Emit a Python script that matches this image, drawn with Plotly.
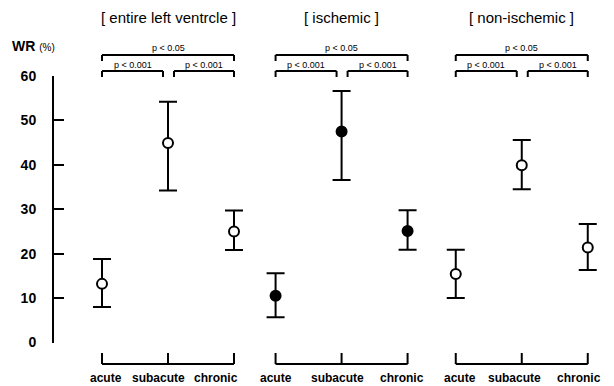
import plotly.graph_objects as go

# ---- data ----
groups = ["[ entire left ventrcle ]", "[ ischemic ]", "[ non-ischemic ]"]
phases = ["acute", "subacute", "chronic"]
mean_values = [[13.2, 44.9, 25.0], [10.5, 47.5, 25.1], [15.4, 39.9, 21.4]]
upper_values = [[18.8, 54.2, 29.7], [15.6, 56.6, 29.8], [20.9, 45.6, 26.7]]
lower_values = [[8.0, 34.2, 20.8], [5.7, 36.6, 20.9], [10.0, 34.5, 16.3]]
filled = [False, True, False]
y_ticks = [0, 10, 20, 30, 40, 50, 60]
p_labels = ["p < 0.05", "p < 0.001", "p < 0.001"]

# ---- layout geometry ----
W, H = 614, 386
group_offsets = [0, 2.63, 5.36]
spacing = 1.0
px_per_unit = 66.0
x0_px = 102
y0_px, y60_px = 342.5, 76
label_shifts = [[4, -10, -18], [0, -4, -6], [4, -7, -9]]


def py(p):  # pixel row -> paper y
    return 1 - p / H


def pxx(p):  # pixel col -> paper x
    return p / W


xr = [-x0_px / px_per_unit, (W - x0_px) / px_per_unit]
du = 1 / px_per_unit  # one pixel in x data units

fig = go.Figure()
shapes = []
annotations = []
label_font = dict(size=12, family="Liberation Sans", weight="bold", color="black")
p_font = dict(size=9, family="Liberation Sans", color="black")

for g in range(3):
    xs = [group_offsets[g] + i * spacing for i in range(3)]
    m = mean_values[g]
    up = [u - v for u, v in zip(upper_values[g], m)]
    dn = [v - l for v, l in zip(m, lower_values[g])]
    fig.add_trace(go.Scatter(
        x=xs, y=m, mode="markers",
        marker=dict(size=10, symbol="circle",
                    color="black" if filled[g] else "white",
                    line=dict(color="black", width=2)),
        error_y=dict(type="data", array=up, arrayminus=dn, symmetric=False,
                     color="black", thickness=2, width=9),
        showlegend=False, cliponaxis=False, hoverinfo="skip",
    ))
    line = dict(color="black", width=2)
    # bottom bracket
    yb, yb_top = py(364), py(353)
    shapes.append(dict(type="line", xref="x", yref="paper", x0=xs[0], x1=xs[2], y0=yb, y1=yb, line=line))
    for xv in xs:
        shapes.append(dict(type="line", xref="x", yref="paper", x0=xv, x1=xv, y0=yb, y1=yb_top, line=line))
    for i, lab in enumerate(phases):
        annotations.append(dict(x=xs[i], y=py(378), xref="x", yref="paper", text=lab,
                                showarrow=False, font=label_font, xshift=label_shifts[g][i],
                                xanchor="center", yanchor="middle"))
    # significance brackets
    yt, yt_leg = py(55), py(61)
    shapes.append(dict(type="line", xref="x", yref="paper", x0=xs[0], x1=xs[2], y0=yt, y1=yt, line=line))
    for xv in (xs[0], xs[2]):
        shapes.append(dict(type="line", xref="x", yref="paper", x0=xv, x1=xv, y0=yt, y1=yt_leg, line=line))
    annotations.append(dict(x=(xs[0] + xs[2]) / 2, y=py(48), xref="x", yref="paper", text=p_labels[0],
                            showarrow=False, font=p_font, yanchor="middle"))
    yl, yl_leg = py(71), py(77)
    segs = [(xs[0], xs[1] - 5 * du), (xs[1] + 6 * du, xs[2])]
    for k, (a, b) in enumerate(segs):
        shapes.append(dict(type="line", xref="x", yref="paper", x0=a, x1=b, y0=yl, y1=yl, line=line))
        for xv in (a, b):
            shapes.append(dict(type="line", xref="x", yref="paper", x0=xv, x1=xv, y0=yl, y1=yl_leg, line=line))
        annotations.append(dict(x=(a + b) / 2, y=py(65), xref="x", yref="paper", text=p_labels[k + 1],
                                showarrow=False, font=p_font, yanchor="middle"))
    # group title
    annotations.append(dict(x=(xs[0] + xs[2]) / 2, y=py(17), xref="x", yref="paper", text=groups[g],
                            showarrow=False, yanchor="middle",
                            font=dict(size=15, family="Liberation Sans", color="black")))

annotations.append(dict(x=pxx(10), y=py(46), xref="paper", yref="paper", xanchor="left", yanchor="middle",
                        text="<b>WR</b> <span style='font-size:10px'>(%)</span>", showarrow=False,
                        font=dict(size=14, family="Liberation Sans", color="black")))

fig.update_layout(
    width=W, height=H, margin=dict(l=0, r=0, t=0, b=0, autoexpand=False),
    plot_bgcolor="white", paper_bgcolor="white", hovermode=False,
    xaxis=dict(range=xr, visible=False, domain=[0, 1], automargin=False),
    yaxis=dict(range=[0, 60], domain=[py(y0_px), py(y60_px)], anchor="free", position=pxx(53),
               automargin=False,
               tickvals=y_ticks, ticks="inside", ticklen=10, tickwidth=2, tickcolor="black",
               showline=True, linewidth=2, linecolor="black", showgrid=False, zeroline=False,
               ticklabelstandoff=13,
               tickfont=dict(size=14, family="Liberation Sans", weight="bold", color="black")),
    shapes=shapes, annotations=annotations,
)

fig.write_html("out.html", config={"displayModeBar": False},
               post_script="document.body.style.margin='0';document.body.style.overflow='hidden';")
